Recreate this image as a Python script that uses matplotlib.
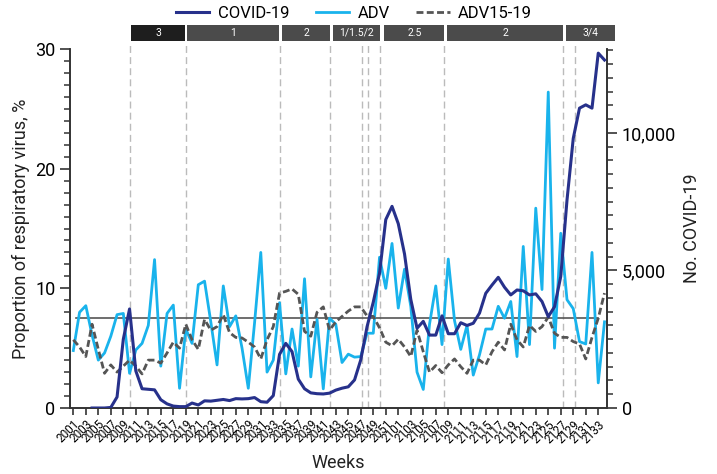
import numpy as np
import matplotlib
matplotlib.use('Agg')
import matplotlib.pyplot as plt
from matplotlib.patches import Rectangle
from matplotlib.ticker import MultipleLocator, FuncFormatter
from matplotlib import transforms

plt.rcParams['font.family'] = ['Roboto', 'DejaVu Sans']

# 주차 (2020년 1주 ~ 2021년 34주)
weeks = [f'20{w:02d}' for w in range(1, 53)] + [f'21{w:02d}' for w in range(1, 35)]

# COVID-19 확진자 수 (오른쪽 축)
covid = [np.nan, np.nan, np.nan, 0, 0, 0, 20, 400, 2500, 3600,
         1350, 700, 680, 660, 300, 150, 70, 50, 50, 180,
         110, 260, 250, 280, 310, 270, 340, 330, 340, 380,
         230, 210, 450, 1950, 2350, 2050, 1050, 700, 550, 520,
         510, 540, 650, 720, 770, 1020, 1750, 2950, 3850, 4900,
         6850, 7330, 6700, 5600, 3950, 2900, 3150, 2650, 2650, 3350,
         2700, 2700, 3100, 3000, 3080, 3450, 4170, 4470, 4750, 4390,
         4110, 4290, 4260, 4110, 4150, 3870, 3320, 3680, 4780, 7560,
         9800, 10900, 11020, 10900, 12900, 12650]

# ADV 비율 (%)
adv = [4.8, 8.0, 8.55, 6.1, 4.0, 4.6, 6.0, 7.8, 7.9, 2.9,
       4.85, 5.4, 6.9, 12.4, 3.5, 7.9, 8.6, 1.65, 6.6, 5.4,
       10.3, 10.6, 7.2, 3.6, 10.2, 6.8, 7.7, 5.0, 1.65, 7.1,
       13.0, 3.0, 4.0, 8.8, 2.85, 6.6, 3.5, 10.8, 2.6, 7.4,
       1.6, 7.5, 7.0, 3.8, 4.5, 4.25, 4.3, 6.25, 6.25, 12.6,
       10.0, 13.75, 8.35, 11.6, 8.5, 3.0, 1.55, 7.0, 10.2, 5.3,
       12.45, 7.3, 4.9, 6.9, 2.75, 4.45, 6.6, 6.6, 8.5, 7.5,
       8.9, 4.3, 13.5, 5.3, 16.7, 9.9, 26.4, 5.0, 14.6, 9.05,
       8.3, 5.55, 5.35, 13.0, 2.1, 7.2]

# ADV 2015-2019 평균 (%)
adv1519 = [5.7, 5.1, 4.3, 7.0, 4.9, 2.9, 3.6, 3.0, 3.5, 4.0,
           3.5, 2.85, 4.0, 4.0, 3.75, 4.6, 5.5, 5.0, 7.0, 5.7,
           4.9, 7.4, 6.5, 6.8, 7.8, 6.3, 5.9, 5.85, 5.5, 5.1,
           4.1, 5.7, 6.8, 9.6, 9.75, 9.95, 9.5, 6.4, 6.0, 8.0,
           8.45, 6.5, 7.2, 7.65, 8.1, 8.45, 8.45, 7.7, 7.65, 6.7,
           5.5, 5.2, 5.75, 5.1, 4.3, 6.5, 4.7, 3.0, 3.55, 2.95,
           3.6, 4.1, 3.45, 2.9, 4.0, 4.0, 3.6, 4.7, 5.5, 4.85,
           7.0, 5.7, 5.1, 6.9, 6.4, 6.8, 7.6, 6.25, 5.9, 5.9,
           5.55, 5.35, 4.1, 5.9, 7.5, 9.6]

mean_level = 7.5

# 거리두기 단계 (시작, 끝, 라벨)
levels = [(9.28, 17.9, '3'), (18.24, 32.96, '1'), (33.44, 41.1, '2'),
          (41.6, 49.1, '1/1.5/2'), (49.76, 59.36, '2.5'), (59.84, 78.4, '2'),
          (78.9, 86.7, '3/4')]
level_lines = [9.1, 18.0, 33.1, 41.1, 46.2, 47.15, 49.1, 59.25, 78.3, 80.3]

x = np.arange(len(weeks))
c_covid = '#27318b'
c_adv = '#19b3ec'
c_hist = '#555555'

fig = plt.figure(figsize=(7.17, 4.74), dpi=100)
ax = fig.add_axes([70/717, 66/474, 537/717, 359/474])
ax2 = ax.twinx()

for v in level_lines:
    ax.axvline(v, ymin=0, ymax=1.018, color='#bbbbbb', lw=1, ls=(0, (5, 3)), clip_on=False, zorder=1)

ax.plot([0.5, 84], [mean_level, mean_level], color='#555555', lw=1.2, zorder=2)
l2, = ax.plot(x, adv, color=c_adv, lw=2, zorder=3)
l3, = ax.plot(x, adv1519, color=c_hist, lw=2, ls=(0, (2.5, 1.2)), zorder=4)
l1, = ax2.plot(x, covid, color=c_covid, lw=2.2, zorder=5)

ax.set_xlim(-0.53, 85.4)
ax.set_ylim(0, 30)
ax2.set_ylim(0, 13050)

ax.set_xticks(x[::2])
ax.set_xticklabels(weeks[::2], rotation=45, ha='right', rotation_mode='anchor', fontsize=8.5)
ax.yaxis.set_major_locator(MultipleLocator(10))
ax.yaxis.set_minor_locator(MultipleLocator(1))
ax2.yaxis.set_major_locator(MultipleLocator(5000))
ax2.yaxis.set_minor_locator(MultipleLocator(500))
ax2.yaxis.set_major_formatter(FuncFormatter(lambda v, p: f'{int(v):,}'))

for a in (ax, ax2):
    a.spines['top'].set_visible(False)
    for s in a.spines.values():
        s.set_color('#333333')
        s.set_linewidth(1.2)
    a.tick_params(which='major', length=7, width=1.2, color='#333333', labelsize=13)
    a.tick_params(which='minor', length=4, width=1.1, color='#333333')
ax.tick_params(axis='x', length=5, labelsize=8.5, pad=2)

ax.set_ylabel('Proportion of respiratory virus, %', fontsize=13, color='#222222')
ax2.set_ylabel('No. COVID-19', fontsize=13, color='#222222', labelpad=5)
ax.set_xlabel('Weeks', fontsize=13, color='#222222', labelpad=6)

trans = transforms.blended_transform_factory(ax.transData, ax.transAxes)
for i, (s, e, lab) in enumerate(levels):
    col = '#1e1e1e' if i == 0 else '#4b4b4b'
    ax.add_patch(Rectangle((s, 1.0223), e - s, 0.0446, transform=trans,
                           facecolor=col, edgecolor='none', clip_on=False))
    ax.text((s + e) / 2, 1.0446, lab, transform=trans, color='white',
            fontsize=7.5, ha='center', va='center')

fig.legend([l1, l2, l3], ['COVID-19', 'ADV', 'ADV15-19'], loc='upper center',
           bbox_to_anchor=(354/717, 1.02), ncol=3, frameon=False, fontsize=12,
           handlelength=2.0, handletextpad=0.5, columnspacing=1.6)

fig.savefig('out.png', dpi=100)
